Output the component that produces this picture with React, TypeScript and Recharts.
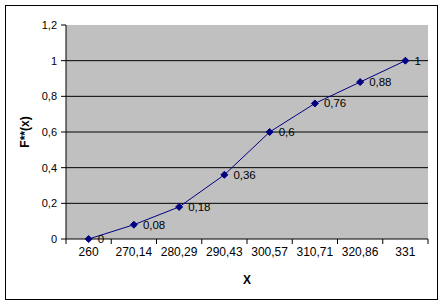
import * as React from "react";
import { CartesianGrid, LabelList, Line, LineChart, XAxis, YAxis } from "recharts";

const categories = ["260", "270,14", "280,29", "290,43", "300,57", "310,71", "320,86", "331"];
const values = [0, 0.08, 0.18, 0.36, 0.6, 0.76, 0.88, 1];
const yTicks = [0, 0.2, 0.4, 0.6, 0.8, 1, 1.2];
const gridLines = [0.2, 0.4, 0.6, 0.8, 1];

const data = categories.map((x, i) => ({ x, F: values[i] }));

const W = 444;
const H = 306;
const PLOT_LEFT = 66;
const PLOT_RIGHT = 428;
const PLOT_TOP = 25;
const PLOT_BOTTOM = 239;
const BAND = (PLOT_RIGHT - PLOT_LEFT) / categories.length;
const FONT = "'Liberation Sans', Arial, sans-serif";

const fmt = (v: number) => String(v).replace(".", ",");

function Diamond({ cx, cy }: any) {
  if (typeof cx !== "number" || typeof cy !== "number") return null;
  const r = 3.5;
  return (
    <path
      d={`M${cx},${cy - r} L${cx + r},${cy} L${cx},${cy + r} L${cx - r},${cy} Z`}
      fill="#000080"
      stroke="#000080"
    />
  );
}

function XTick({ x, y, payload, index }: any) {
  const left = x - BAND / 2;
  return (
    <g>
      <line x1={left} x2={left} y1={PLOT_BOTTOM} y2={PLOT_BOTTOM + 5} stroke="#000" />
      {index === categories.length - 1 && (
        <line x1={x + BAND / 2} x2={x + BAND / 2} y1={PLOT_BOTTOM} y2={PLOT_BOTTOM + 5} stroke="#000" />
      )}
      <text x={x} y={y} dy={8.5} textAnchor="middle" fontSize={12} fontFamily={FONT} fill="#000">
        {payload.value}
      </text>
    </g>
  );
}

export default function App() {
  return (
    <div style={{ position: "absolute", left: 0, top: 0, width: W, height: H, background: "#fff" }}>
      <div
        style={{
          position: "absolute",
          left: 5,
          top: 5,
          width: 431,
          height: 293,
          border: "1px solid #000",
        }}
      />
      <div style={{ position: "absolute", left: 0, top: 0 }}>
        <LineChart
          width={W}
          height={H}
          data={data}
          margin={{ top: PLOT_TOP, right: W - PLOT_RIGHT, bottom: 17, left: 0 }}
        >
          <CartesianGrid
            fill="#C0C0C0"
            fillOpacity={1}
            stroke="#000"
            vertical={false}
            horizontalValues={gridLines}
          />
          <XAxis
            dataKey="x"
            height={50}
            stroke="#000"
            tickLine={false}
            interval={0}
            padding={{ left: BAND / 2, right: BAND / 2 }}
            tick={<XTick />}
            label={{
              content: ({ viewBox }: any) => (
                <text
                  x={viewBox.x + viewBox.width / 2}
                  y={283.5}
                  textAnchor="middle"
                  fontSize={12}
                  fontWeight="bold"
                  fontFamily={FONT}
                  fill="#000"
                >
                  X
                </text>
              ),
            }}
          />
          <YAxis
            width={PLOT_LEFT}
            domain={[0, 1.2]}
            ticks={yTicks}
            interval={0}
            stroke="#000"
            tickSize={5}
            tickMargin={4}
            tickFormatter={fmt}
            tick={{ fontSize: 11, fontFamily: FONT, fill: "#000" }}
            label={{
              content: ({ viewBox }: any) => {
                const cy = viewBox.y + viewBox.height / 2;
                return (
                  <text
                    x={29}
                    y={cy}
                    transform={`rotate(-90 29 ${cy})`}
                    textAnchor="middle"
                    fontSize={12}
                    fontWeight="bold"
                    fontFamily={FONT}
                    fill="#000"
                  >
                    F**(x)
                  </text>
                );
              },
            }}
          />
          <Line
            type="linear"
            dataKey="F"
            stroke="#000080"
            strokeWidth={1}
            dot={<Diamond />}
            activeDot={false}
            isAnimationActive={false}
          >
            <LabelList
              dataKey="F"
              content={({ x, y, value }: any) => (
                <text
                  x={Number(x) + 9}
                  y={Number(y) + 4}
                  fontSize={11.5}
                  fontFamily={FONT}
                  fill="#000"
                >
                  {fmt(Number(value))}
                </text>
              )}
            />
          </Line>
        </LineChart>
      </div>
    </div>
  );
}
